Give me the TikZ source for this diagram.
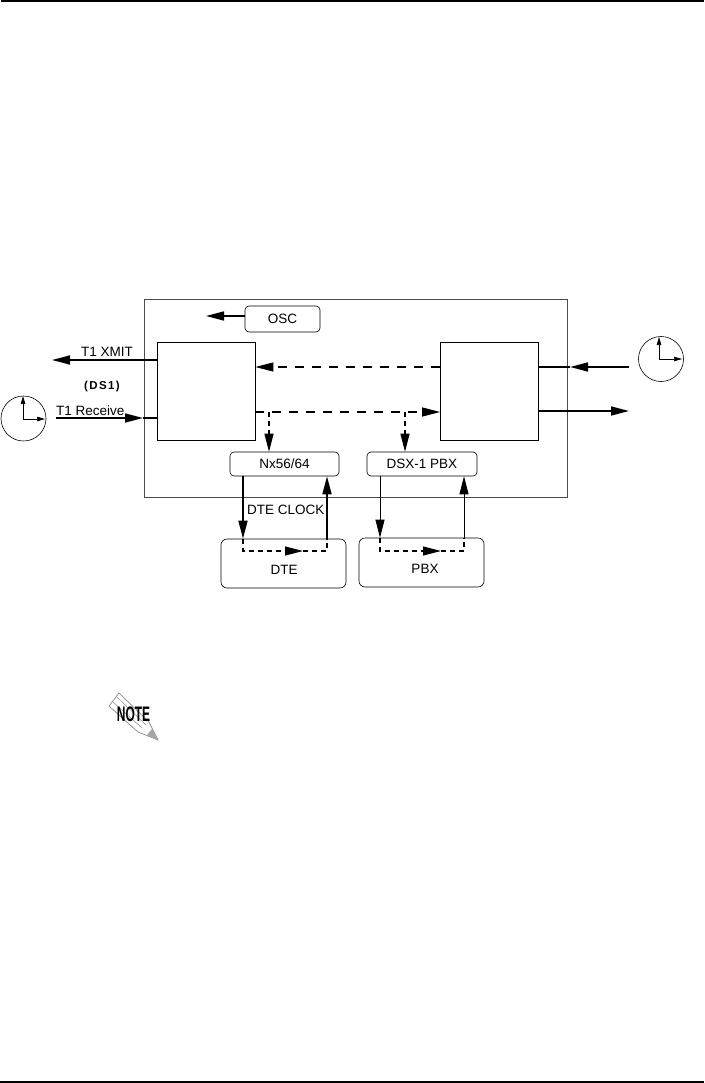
\documentclass[tikz,border=0pt]{standalone}
\usepackage{fontspec}
\setmainfont{Liberation Sans}
\usepackage{xcolor}
\usetikzlibrary{arrows.meta}

\begin{document}
\begin{tikzpicture}[
x=1pt,
y=-1pt,
every node/.style={font=\fontsize{13.5}{15}\selectfont},
outerbox/.style={
	rectangle,
	draw=black!70,
	line width=0.8pt,
	minimum width=423pt,
	minimum height=198pt
},
block/.style={
	rectangle,
	draw,
	line width=0.7pt,
	minimum width=98pt,
	minimum height=98pt
},
port/.style={
	rectangle,
	rounded corners=4pt,
	draw,
	line width=0.6pt,
	align=center,
	minimum height=24pt
},
device/.style={
	rectangle,
	rounded corners=6pt,
	draw,
	line width=0.6pt,
	align=center,
	minimum width=125pt,
	minimum height=49pt
},
clock/.style={
	circle,
	draw,
	line width=0.6pt,
	minimum size=45pt
},
caption/.style={inner sep=0pt},
bigtip/.style={-{Triangle[length=18pt,width=9pt]}},
smalltip/.style={-{Triangle[length=8pt,width=4.5pt]}},
signal/.style={line width=1.6pt},
thinsignal/.style={line width=0.7pt},
dashline/.style={line width=1.1pt, dash pattern=on 9pt off 8pt},
shortdash/.style={line width=1.1pt, dash pattern=on 5pt off 4pt},
pagerule/.style={line width=2pt}
]

\useasboundingbox (0,0) rectangle (704,1083);

% page rules
\coordinate (topl) at (1,1);
\coordinate (topr) at (704,1);
\coordinate (botl) at (0,1082);
\coordinate (botr) at (704,1082);
\draw[pagerule] (topl) -- (topr);
\draw[pagerule] (botl) -- (botr);

% boxes
\node[outerbox] (chassis) at (355.5,398) {};
\node[block] (left) at (206,391) {};
\node[block] (right) at (489.5,391) {};
\node[port, minimum width=75pt, minimum height=26pt] (osc) at (282.5,319) {OSC};
\node[port, minimum width=109pt] (nx) at (284.5,464) {Nx56/64};
\node[port, minimum width=110pt] (dsx) at (422,464) {DSX-1 PBX};
\node[device] (dte) at (283.5,563.5) {};
\node[device] (pbx) at (421.5,562.5) {};
\node[caption] (dtename) at (284,570) {DTE};
\node[caption] (pbxname) at (425,569) {PBX};

% clocks
\node[clock] (clockl) at (23.5,418.5) {};
\node[clock] (clockr) at (661,359) {};
\coordinate (handl) at (23,419);
\coordinate (handlu) at (23,396);
\coordinate (handlr) at (45,419);
\coordinate (handr) at (659,359);
\coordinate (handru) at (659,337);
\coordinate (handrr) at (682,359);
\draw[smalltip, thinsignal] (handl) -- (handlu);
\draw[smalltip, thinsignal] (handl) -- (handlr);
\draw[smalltip, thinsignal] (handr) -- (handru);
\draw[smalltip, thinsignal] (handr) -- (handrr);

% line signals
\coordinate (xmitend) at (52,360);
\coordinate (recvstart) at (56,418);
\coordinate (recvtip) at (143,418);
\coordinate (oscend) at (206,316);
\coordinate (clockin) at (629,367);
\coordinate (clockintip) at (570,367);
\coordinate (lineout) at (629,411);

\draw[signal, bigtip] (left.west |- xmitend) -- (xmitend);
\draw[signal, bigtip] (recvstart) -- (recvtip);
\draw[signal] (recvtip) -- (left.west |- recvtip);
\draw[signal, bigtip] (osc.west |- oscend) -- (oscend);
\draw[signal, bigtip] (clockin) -- (clockintip);
\draw[signal] (clockintip) -- (right.east |- clockintip);
\draw[signal, bigtip] (right.east |- lineout) -- (lineout);

% dashed paths between blocks
\coordinate (upper) at (300,367);
\coordinate (lower) at (300,412);
\coordinate (nxdrop) at (269,412);
\coordinate (dsxdrop) at (405,412);
\draw[dashline, bigtip] (right.west |- upper) -- (left.east |- upper);
\draw[dashline, bigtip] (left.east |- lower) -- (right.west |- lower);
\draw[shortdash, bigtip] (nxdrop) -- (nx.north -| nxdrop);
\draw[shortdash, bigtip] (dsxdrop) -- (dsx.north -| dsxdrop);

% Nx56/64 to DTE
\coordinate (dtedown) at (243,520);
\coordinate (dteup) at (327,520);
\coordinate (dteloopa) at (243,551);
\coordinate (dteloopb) at (327,551);
\coordinate (dtetip) at (303,551);
\draw[signal, bigtip] (nx.south -| dtedown) -- (dte.north -| dtedown);
\draw[signal, bigtip] (dte.north -| dteup) -- (nx.south -| dteup);
\draw[shortdash, bigtip] (dte.north -| dtedown) -- (dteloopa) -- (dtetip);
\draw[shortdash] (dtetip) -- (dteloopb) -- (dte.north -| dteup);

% DSX-1 PBX to PBX
\coordinate (pbxdown) at (380,520);
\coordinate (pbxup) at (464,520);
\coordinate (pbxloopa) at (380,551);
\coordinate (pbxloopb) at (464,551);
\coordinate (pbxtip) at (441,551);
\draw[thinsignal, bigtip] (dsx.south -| pbxdown) -- (pbx.north -| pbxdown);
\draw[thinsignal, bigtip] (pbx.north -| pbxup) -- (dsx.south -| pbxup);
\draw[shortdash, bigtip] (pbx.north -| pbxdown) -- (pbxloopa) -- (pbxtip);
\draw[shortdash] (pbxtip) -- (pbxloopb) -- (pbx.north -| pbxup);

% labels
\node[caption, anchor=west] (xmit) at (81,352) {T1 XMIT};
\node[caption, anchor=west] (recv) at (56,411) {T1 Receive};
\node[caption, font=\fontsize{11.5}{14}\selectfont\bfseries\addfontfeature{LetterSpace=12}] (ds1) at (102,387) {(DS1)};
\node[caption, anchor=west] (clk) at (247,510) {DTE CLOCK};

% note icon
\draw[black!45, fill=white, line width=0.7pt] (109,706) -- (119,693) -- (149,722) -- (158,740) -- (138,732) -- cycle;
\draw[black!45, line width=0.5pt] (113,702) -- (142,728);
\draw[black!45, line width=0.5pt] (117,697) -- (146,725);
\fill[black!35] (158,740) -- (147,735) -- (152,729) -- cycle;
\node[caption, font=\fontsize{21}{22}\selectfont\bfseries, xscale=0.57] (note) at (133.5,714.5) {NOTE};

\end{tikzpicture}
\end{document}
